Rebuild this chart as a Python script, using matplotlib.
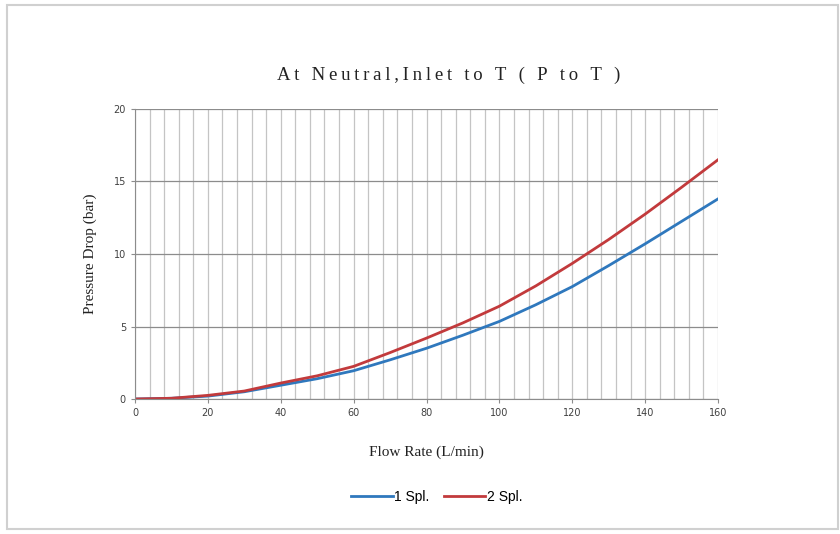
import numpy as np
import matplotlib.pyplot as plt
from matplotlib.patches import Rectangle

flow = [0, 10, 20, 30, 40, 50, 60, 70, 80, 90, 100, 110, 120, 130, 140, 150, 160]
spl1 = [0, 0.05, 0.2, 0.5, 0.95, 1.4, 1.95, 2.7, 3.5, 4.4, 5.35, 6.5, 7.75, 9.2, 10.7, 12.25, 13.8]
spl2 = [0, 0.05, 0.25, 0.55, 1.1, 1.6, 2.25, 3.2, 4.2, 5.25, 6.4, 7.8, 9.35, 11.0, 12.75, 14.6, 16.5]
labels = ["1 Spl.", "2 Spl."]
colors = ["#2f78bd", "#c23a3c"]
title = "At Neutral,Inlet to T ( P to T )"

fig = plt.figure(figsize=(8.4, 5.34), dpi=100)
fig.patches.append(Rectangle((0.008, 0.01), 0.99, 0.98, transform=fig.transFigure,
                             fill=False, edgecolor="#d0d0d0", linewidth=1.5))

ax = fig.add_axes([0.1607, 0.2528, 0.6941, 0.5431])
for ys, lab, c in zip([spl1, spl2], labels, colors):
    ax.plot(flow, ys, color=c, linewidth=2, label=lab)

ax.set_xlim(0, 160)
ax.set_ylim(0, 20)
ax.set_xticks(np.arange(0, 161, 20))
ax.set_xticks(np.arange(0, 161, 4), minor=True)
ax.set_yticks(np.arange(0, 21, 5))
ax.grid(axis="x", which="both", color="#c4c4c4", linewidth=0.9)
ax.grid(axis="y", which="major", color="#8c8c8c", linewidth=0.9)
ax.set_axisbelow(True)
for s in ["top", "right"]:
    ax.spines[s].set_visible(False)
for s in ["left", "bottom"]:
    ax.spines[s].set_color("#8c8c8c")
ax.tick_params(which="both", length=3, color="#8c8c8c", labelsize=7, labelcolor="#404040")
ax.tick_params(which="minor", length=0)

serif = "Liberation Serif"
# spread the title letters out a little, like the original
spaced = "\u2009".join(title)
ax.set_title(spaced, fontfamily=serif, fontsize=13.5, pad=21, color="#222222", x=0.538)
ax.set_xlabel("Flow Rate (L/min)", fontfamily=serif, fontsize=11, labelpad=20, color="#222222")
ax.set_ylabel("Pressure Drop (bar)", fontfamily=serif, fontsize=11, labelpad=12, color="#222222")

fig.legend(loc="center", bbox_to_anchor=(0.52, 0.069), ncol=2, frameon=False,
           prop={"family": "Liberation Sans", "size": 10}, handlelength=3.0,
           handletextpad=0.1, columnspacing=1.0)

fig.savefig("out.png", dpi=100)
